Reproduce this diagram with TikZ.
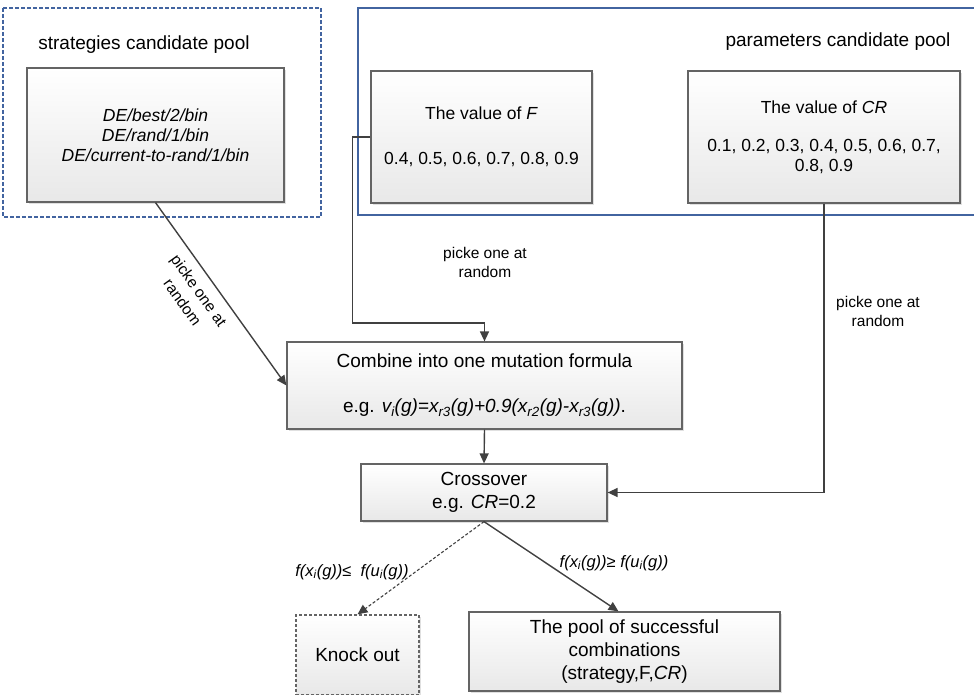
\documentclass[tikz,border=0pt]{standalone}
\usepackage{fontspec}
\setmainfont{Liberation Sans}
\usetikzlibrary{arrows.meta,shadows}
\definecolor{poolblue}{RGB}{66,100,160}
\definecolor{boxline}{RGB}{100,100,100}
\definecolor{boxshade}{RGB}{232,232,232}
\definecolor{arrowgray}{RGB}{64,64,64}

\begin{document}
\begin{tikzpicture}[x=1pt,y=-1pt,
  box/.style={draw=boxline,line width=1.2pt,top color=white,bottom color=boxshade,
    align=center,inner sep=0pt,
    drop shadow={shadow xshift=2pt,shadow yshift=-2pt,fill=black!30,opacity=0.4}},
  big/.style={font=\fontsize{19}{23}\selectfont},
  mid/.style={font=\fontsize{17.5}{20}\selectfont},
  lbl/.style={font=\fontsize{15.5}{19}\selectfont,align=center},
  cond/.style={font=\fontsize{16.5}{19}\selectfont\itshape},
  conn/.style={draw=arrowgray,line width=1.4pt,-{Triangle[length=10pt,width=9pt]}}]
\useasboundingbox (0,0) rectangle (974,695);
% the two candidate pools
\draw[poolblue,line width=1.1pt,dash pattern=on 4pt off 2pt] (3,8) rectangle (321,217);
\draw[poolblue,line width=1.1pt] (358,8) rectangle (990,215);
\node[big] (stitle) at (144,45) {strategies candidate pool};
\node[big] (ptitle) at (838,42) {parameters candidate pool};
\node[box,font=\fontsize{17.5}{20}\selectfont\itshape,minimum width=257pt,minimum height=134pt]
  (strat) at (155.5,135) {DE/best/2/bin\\DE/rand/1/bin\\DE/current-to-rand/1/bin};
\node[box,mid,minimum width=221pt,minimum height=132pt] (fbox) at (481.5,137)
  {The value of \textit{F}\\[25pt]0.4, 0.5, 0.6, 0.7, 0.8, 0.9};
\node[box,mid,minimum width=272pt,minimum height=132pt] (crbox) at (824,137)
  {The value of \textit{CR}\\[18pt]0.1, 0.2, 0.3, 0.4, 0.5, 0.6, 0.7,\\0.8, 0.9};
% evolution steps
\node[box,big,minimum width=395pt,minimum height=87pt] (comb) at (484.5,385.5)
  {Combine into one mutation formula\\[22pt]e.g. \textit{v\textsubscript{i}(g)=x\textsubscript{r3}(g)+0.9(x\textsubscript{r2}(g)-x\textsubscript{r3}(g))}.};
\node[box,big,minimum width=246pt,minimum height=57pt] (cross) at (484,492.5)
  {Crossover\\e.g. \textit{CR}=0.2};
\node[box,big,dash pattern=on 3pt off 2pt,minimum width=123pt,minimum height=80pt] (knock) at (357.5,655) {Knock out};
\node[box,big,minimum width=311pt,minimum height=79pt] (pool) at (624.5,651.5)
  {The pool of successful\\combinations\\(strategy,F,\textit{CR})};
% connectors
\draw[conn] (strat.south) -- (comb.west)
  node[lbl,font=\fontsize{15.5}{20}\selectfont,pos=0.43,sloped,below=6pt] (slbl) {picke one at\\random};
\draw[conn] (fbox.west) -- ++(-18,0) |- (484.5,323) -- (comb.north);
\node[lbl] (flbl) at (485,262) {picke one at\\random};
\draw[conn] (crbox.south) |- (cross.east);
\node[lbl] (crlbl) at (878,311) {picke one at\\random};
\draw[conn] (comb.south) -- (cross.north);
\draw[conn,line width=1.1pt,dash pattern=on 3pt off 2pt] (cross.south) -- (knock.north);
\draw[conn] (cross.south) -- ([xshift=-6pt]pool.north);
\node[cond] (lelbl) at (352,572) {f(x\textsubscript{i}(g))≤\ \ f(u\textsubscript{i}(g))};
\node[cond] (gelbl) at (614,563) {f(x\textsubscript{i}(g))≥ f(u\textsubscript{i}(g))};
\end{tikzpicture}
\end{document}
